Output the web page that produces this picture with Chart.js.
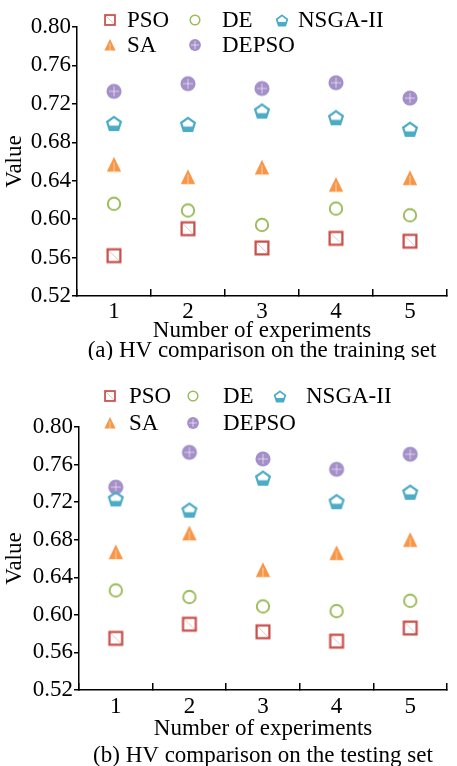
<!DOCTYPE html>
<html>
<head>
<meta charset="utf-8">
<script src="https://cdn.jsdelivr.net/npm/chart.js@4.4.1/dist/chart.umd.min.js"></script>
<style>
  html, body { margin: 0; padding: 0; background: #fff; }
  .box { position: relative; width: 457px; }
</style>
</head>
<body>
<div class="box" style="height:360px"><canvas id="trainChart"></canvas></div>
<div class="box" style="height:406px"><canvas id="testChart"></canvas></div>
<script>
// ==================== DATA ====================
const experiments = ['1', '2', '3', '4', '5'];
const yTickValues = [0.52, 0.56, 0.60, 0.64, 0.68, 0.72, 0.76, 0.80];
const seriesNames = ['PSO', 'DE', 'NSGA-II', 'SA', 'DEPSO'];

// (a) training set
const trainPSO   = [0.562, 0.590, 0.570, 0.580, 0.577];
const trainDE    = [0.616, 0.609, 0.594, 0.611, 0.604];
const trainNSGA  = [0.700, 0.699, 0.713, 0.706, 0.694];
const trainSA    = [0.657, 0.644, 0.654, 0.636, 0.643];
const trainDEPSO = [0.733, 0.741, 0.736, 0.742, 0.726];

// (b) testing set
const testPSO   = [0.575, 0.590, 0.582, 0.572, 0.586];
const testDE    = [0.626, 0.619, 0.609, 0.604, 0.615];
const testNSGA  = [0.724, 0.712, 0.746, 0.721, 0.731];
const testSA    = [0.667, 0.687, 0.648, 0.666, 0.680];
const testDEPSO = [0.736, 0.773, 0.766, 0.755, 0.771];

// ==================== MARKERS ====================
const colors = ['#c9504b', '#9bbb59', '#4bacc6', '#f79646', '#a48fc8'];
const kinds  = ['square', 'ring', 'pentagon', 'triangle', 'dot'];

function makeMarker(kind, s, color) {
  const c = document.createElement('canvas');
  c.width = s; c.height = s;
  const g = c.getContext('2d');
  const m = s / 2;
  g.strokeStyle = color; g.fillStyle = color;
  g.lineWidth = s / 8;
  if (kind === 'square') {
    const h = s * 0.355;
    g.strokeRect(m - h, m - h, 2 * h, 2 * h);
    g.globalAlpha = 0.35; g.lineWidth = 1;
    g.beginPath(); g.moveTo(m - h, m - h); g.lineTo(m + h, m + h); g.stroke();
  } else if (kind === 'ring') {
    g.lineWidth = s / 9.5;
    g.beginPath(); g.arc(m, m, s * 0.345, 0, Math.PI * 2); g.stroke();
  } else if (kind === 'pentagon') {
    const r = s * 0.40;
    g.beginPath();
    for (let k = 0; k < 5; k++) {
      const a = -Math.PI / 2 + k * 2 * Math.PI / 5;
      const px = m + r * Math.cos(a), py = m + 1 + r * Math.sin(a);
      k ? g.lineTo(px, py) : g.moveTo(px, py);
    }
    g.closePath(); g.stroke();
    g.save(); g.clip(); g.fillRect(0, m + r * 0.35, s, s); g.restore();
  } else if (kind === 'triangle') {
    g.beginPath();
    g.moveTo(m, s * 0.08); g.lineTo(m + s * 0.40, s * 0.90); g.lineTo(m - s * 0.40, s * 0.90);
    g.closePath(); g.fill();
    g.strokeStyle = 'rgba(255,255,255,0.55)'; g.lineWidth = 1;
    g.beginPath(); g.moveTo(m, s * 0.38); g.lineTo(m, s * 0.90); g.stroke();
  } else if (kind === 'dot') {
    g.beginPath(); g.arc(m, m, s * 0.42, 0, Math.PI * 2); g.fill();
    g.strokeStyle = 'rgba(255,255,255,0.6)'; g.lineWidth = 1;
    g.beginPath(); g.moveTo(m, m - s * 0.28); g.lineTo(m, m + s * 0.28);
    g.moveTo(m - s * 0.28, m); g.lineTo(m + s * 0.28, m); g.stroke();
  }
  return c;
}

// ==================== LEGEND PLUGIN ====================
const gridLegend = {
  id: 'gridLegend',
  afterDraw(chart, args, opts) {
    const { ctx } = chart;
    ctx.save();
    ctx.font = opts.font;
    ctx.fillStyle = '#000';
    ctx.textBaseline = 'middle';
    ctx.textAlign = 'left';
    chart.data.datasets.forEach((ds, i) => {
      const col = i % 3, row = Math.floor(i / 3);
      const y = opts.rowY[row];
      const img = makeMarker(kinds[i], opts.markerSize, colors[i]);
      ctx.drawImage(img, opts.markerX[col] - img.width / 2, y - img.height / 2);
      ctx.fillText(ds.label, opts.textX[col], y + 1);
    });
    ctx.restore();
  }
};

// ==================== CHART ====================
const FONT = "'Liberation Serif', 'Times New Roman', serif";
const FSIZE = 23;

function buildChart(id, series, cfg) {
  const ctx = document.getElementById(id);
  return new Chart(ctx, {
    type: 'line',
    data: {
      labels: experiments,
      datasets: series.map((vals, i) => ({
        label: seriesNames[i],
        data: vals,
        showLine: false,
        pointStyle: makeMarker(kinds[i], 18, colors[i]),
        pointRadius: 9,
        borderColor: colors[i],
        backgroundColor: colors[i]
      }))
    },
    options: {
      responsive: true,
      maintainAspectRatio: false,
      animation: false,
      layout: { padding: { top: cfg.top, right: cfg.right, bottom: 0, left: 0 } },
      plugins: {
        legend: { display: false },
        tooltip: { enabled: false },
        gridLegend: cfg.legend
      },
      scales: {
        x: {
          type: 'category',
          offset: true,
          afterFit: s => { s.height = cfg.xHeight; },
          grid: { offset: true, drawOnChartArea: false, drawTicks: true, tickLength: -7, color: '#000', lineWidth: 1.5 },
          border: { display: true, color: '#000', width: 1.5 },
          ticks: { color: '#000', padding: cfg.xPad, font: { family: FONT, size: FSIZE } },
          title: {
            display: true,
            text: ['Number of experiments', cfg.caption],
            color: '#000',
            font: { family: FONT, size: FSIZE, lineHeight: cfg.titleLH },
            padding: { top: 0, bottom: cfg.titlePadBottom }
          }
        },
        y: {
          min: 0.52,
          max: 0.80,
          afterFit: s => { s.width = cfg.yWidth; },
          afterBuildTicks: s => { s.ticks = yTickValues.map(v => ({ value: v })); },
          grid: { drawOnChartArea: false, drawTicks: true, tickLength: 5, color: '#000', lineWidth: 1.5 },
          border: { display: true, color: '#000', width: 1.5 },
          ticks: { color: '#000', padding: 1, font: { family: FONT, size: FSIZE }, callback: v => v.toFixed(2) },
          title: {
            display: true,
            text: 'Value',
            color: '#000',
            font: { family: FONT, size: FSIZE },
            padding: { top: 1, bottom: 0 }
          }
        }
      }
    },
    plugins: [gridLegend]
  });
}

buildChart('trainChart', [trainPSO, trainDE, trainNSGA, trainSA, trainDEPSO], {
  top: 27, right: 0, yWidth: 77, xHeight: 64, xPad: 9,
  titleLH: 20 / 23, titlePadBottom: -1,
  caption: '(a) HV comparison on the training set',
  legend: { font: `${FSIZE}px ${FONT}`, markerSize: 14, rowY: [20, 45], markerX: [110, 195, 282], textX: [127, 222, 298] }
});

buildChart('testChart', [testPSO, testDE, testNSGA, testSA, testDEPSO], {
  top: 67, right: 3, yWidth: 79, xHeight: 76, xPad: 10,
  titleLH: 27 / 23, titlePadBottom: -3,
  caption: '(b) HV comparison on the testing set',
  legend: { font: `${FSIZE}px ${FONT}`, markerSize: 14, rowY: [36, 63], markerX: [110, 193, 280], textX: [129, 223, 306] }
});
</script>
</body>
</html>
